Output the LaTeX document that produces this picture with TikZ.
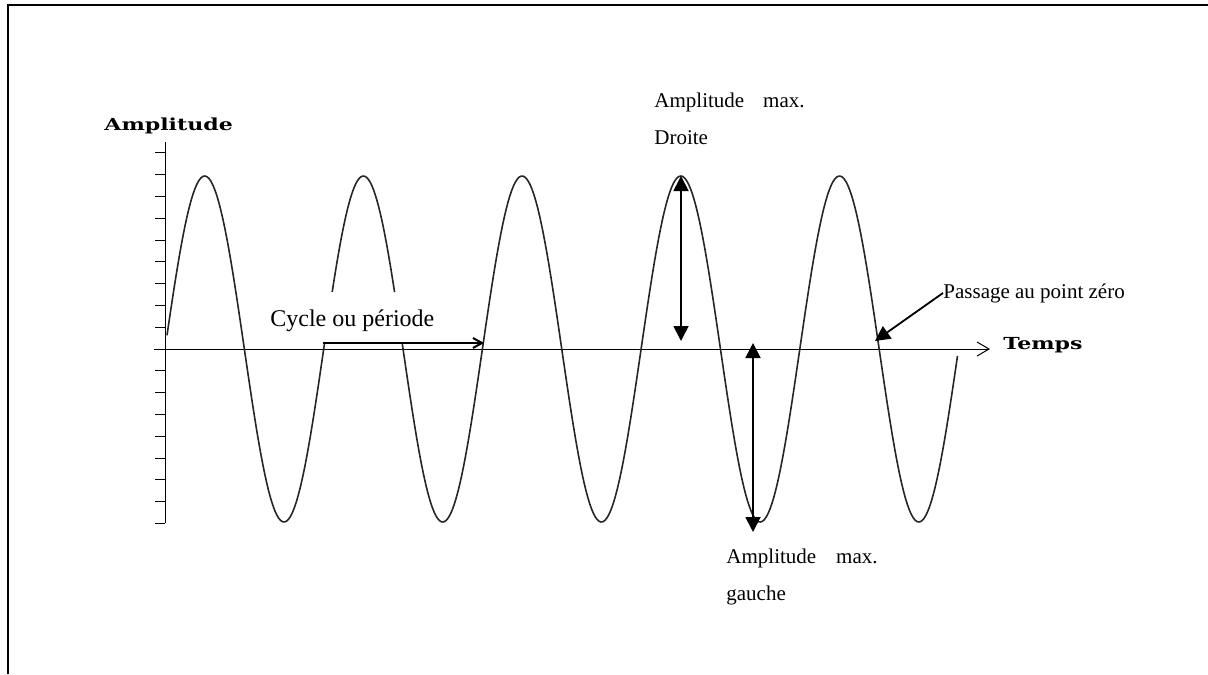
\documentclass[tikz,border=0pt]{standalone}
\usepackage{fontspec}
\setmainfont{Liberation Serif}
\newfontfamily\axisfont{DejaVu Serif}
\usetikzlibrary{arrows.meta}

\begin{document}
\begin{tikzpicture}[
    x=0.5pt, y=-0.5pt,
    wave/.style={line width=0.8pt, black!85},
    axis/.style={line width=0.5pt},
    tickmark/.style={line width=0.5pt},
    note/.style={inner sep=0pt, anchor=base west, align=left, font=\fontsize{10.5}{18.5}\selectfont},
    axislabel/.style={inner sep=0pt, anchor=base west, font=\axisfont\bfseries\fontsize{8.3}{9}\selectfont},
    arrow/.style={-{Triangle[length=7.5pt, width=7.5pt]}, line width=0.9pt},
    dblarrow/.style={{Triangle[length=7.5pt, width=7.5pt]}-{Triangle[length=7.5pt, width=7.5pt]}, line width=0.9pt},
    cyclearrow/.style={-{Straight Barb[length=4.5pt, width=5pt]}, line width=1pt}
]
\useasboundingbox (0,0) rectangle (1208,674);
% frame
\draw[line width=1pt] (8,674) -- (8,5) -- (1208,5);

% axes
\draw[axis] (165,142) -- (165,523);
\foreach \k in {-9,...,-1,1,2,...,8}
    \draw[tickmark] (155,349+21.8*\k) -- (165,349+21.8*\k);
\draw[axis, -{Straight Barb[length=6pt, width=7pt]}] (154,349) -- (990,349);

% signal
\draw[wave] plot[domain=167:324.6, samples=80] (\x, {349-173*sin((\x-165)/158.7*360)});
\draw[wave] plot[domain=332.2:394.6, samples=40] (\x, {349-173*sin((\x-165)/158.7*360)});
\draw[wave] plot[domain=402.2:957.5, samples=300] (\x, {349-173*sin((\x-165)/158.7*360)});

% labels
\node[axislabel] (ampl) at (104,130) {\scalebox{1.33}[1]{Amplitude}};
\node[axislabel] (temps) at (1003,349) {\scalebox{1.33}[1]{Temps}};
\node[note, font=\fontsize{12}{14}\selectfont] (cycle) at (270,326) {Cycle ou période};
\node[note] (maxdroite) at (654,144) {Amplitude\hspace{9.5pt}max.\\Droite};
\node[note] (maxgauche) at (726,600) {Amplitude\hspace{10pt}max.\\gauche};
\node[note] (passage) at (943,298) {Passage au point zéro};

% arrows
\coordinate (cstart) at (323,343);
\coordinate (cend) at (484,343);
\coordinate (dtop) at (681,176);
\coordinate (dbot) at (681,341);
\coordinate (gtop) at (753,343);
\coordinate (gbot) at (753,532);
\coordinate (zero) at (875,341);
\draw[cyclearrow] (cstart) -- (cend);
\draw[dblarrow] (dbot) -- (dtop);
\draw[dblarrow] (gtop) -- (gbot);
\draw[arrow] (passage.west) -- (zero);
\end{tikzpicture}
\end{document}
